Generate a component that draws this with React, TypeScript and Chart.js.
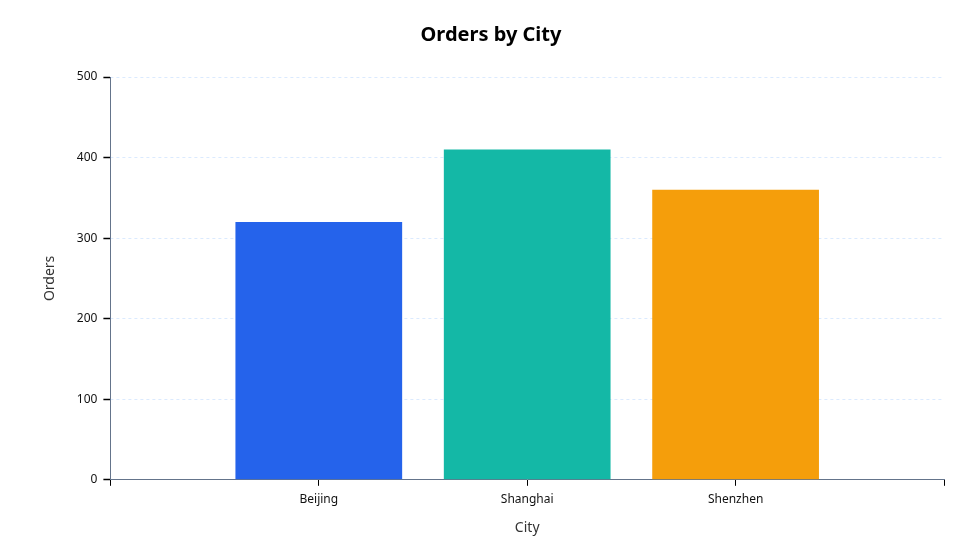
import React, { useEffect, useRef } from "react";
import { Chart, registerables } from "chart.js";

Chart.register(...registerables);

// categories padded with empty slots so the bars sit at 1/4, 1/2, 3/4
const cities = ["", "Beijing", "Shanghai", "Shenzhen", ""];
const orders = [null, 320, 410, 360, null];
const barColors = ["#2563eb", "#2563eb", "#14b8a6", "#f59e0b", "#f59e0b"];
const yMax = 500;
const yStep = 100;

const font = "'Noto Sans', 'DejaVu Sans', sans-serif";

const App: React.FC = () => {
  const canvasRef = useRef<HTMLCanvasElement>(null);

  useEffect(() => {
    if (!canvasRef.current) return;

    const chart = new Chart(canvasRef.current, {
      type: "bar",
      data: {
        labels: cities,
        datasets: [
          {
            label: "Orders",
            data: orders,
            backgroundColor: barColors,
            categoryPercentage: 0.8,
            barPercentage: 1,
          },
        ],
      },
      options: {
        animation: false,
        responsive: true,
        maintainAspectRatio: false,
        layout: { padding: { left: 38, right: 36, top: 10, bottom: 20 } },
        plugins: {
          legend: { display: false },
          tooltip: { enabled: false },
          title: {
            display: true,
            text: "Orders by City",
            color: "#000",
            font: { family: font, size: 20, weight: "bold" },
            padding: { top: 13, bottom: 30 },
          },
        },
        scales: {
          x: {
            offset: false,
            grid: {
              offset: false,
              drawOnChartArea: false,
              drawTicks: true,
              tickLength: 6,
              tickColor: "#000",
              tickWidth: 1,
            },
            border: { color: "#64748b", width: 1 },
            ticks: { color: "#111", font: { family: font, size: 12 }, padding: 7 },
            title: {
              display: true,
              text: "City",
              color: "#333",
              font: { family: font, size: 14 },
              padding: { top: 5 },
            },
          },
          // dashed grid lines only (border.dash would also dash the axis line)
          yGrid: {
            type: "linear",
            position: "right",
            min: 0,
            max: yMax,
            ticks: { display: false, stepSize: yStep },
            grid: { color: "#dbeafe", drawTicks: false },
            border: { display: false, dash: [3, 3] },
          },
          y: {
            type: "linear",
            position: "left",
            min: 0,
            max: yMax,
            ticks: {
              stepSize: yStep,
              color: "#111",
              font: { family: font, size: 12 },
              padding: 6,
            },
            grid: {
              drawOnChartArea: false,
              drawTicks: true,
              tickColor: "#000",
              tickWidth: 1.5,
              tickLength: 7,
            },
            border: { color: "#64748b", width: 1 },
            title: {
              display: true,
              text: "Orders",
              color: "#333",
              font: { family: font, size: 14 },
              padding: { bottom: 12 },
            },
          },
        },
      },
    });

    return () => {
      chart.destroy();
    };
  }, []);

  return (
    <div style={{ position: "fixed", left: 0, top: 0, width: 980, height: 560 }}>
      <canvas ref={canvasRef}></canvas>
    </div>
  );
};

export default App;
